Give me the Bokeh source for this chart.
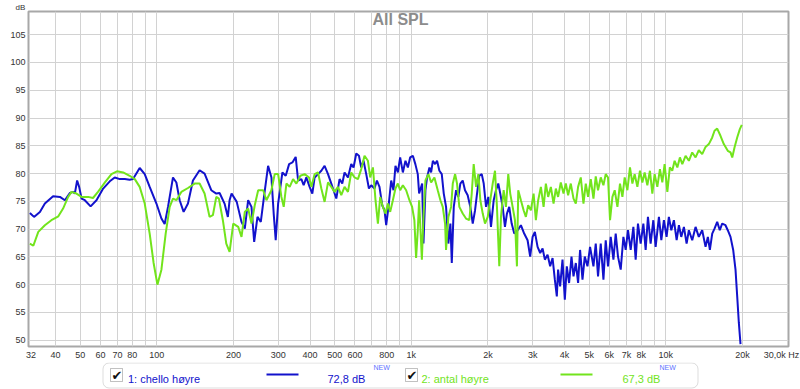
from bokeh.plotting import figure
from bokeh.models import Range1d, FixedTicker, Label, BoxAnnotation, Title
from bokeh.layouts import column
from bokeh.embed import file_html
from bokeh.resources import INLINE

# ---- data (Hz, dB) ----
blue_freq = [31.7, 32.9, 34.7, 36.3, 39.1, 41.6, 43.5, 45.5, 46.9, 47.6, 48.6, 49.5, 50.6, 52.1, 54.9, 57.9,
             61.5, 65.3, 68.3, 71.5, 74.8, 78.2, 80.6, 85.6, 89.6, 93.7, 99.6, 104.2, 107.3, 110.6, 115.7,
             119.3, 122.9, 127.4, 132.5, 138.6, 147.2, 154.0, 163.6, 171.2, 176.4, 184.5, 190.1, 193.1, 196.6,
             206, 215, 221.6, 228.4, 235.4, 241.2, 248.5, 256.1, 264.1, 273.6, 282, 287.8, 293.1, 299.6,
             311.4, 320.9, 330.9, 340.9, 351.2, 358.9, 369.7, 377.5, 386.7, 398.4, 408.2, 416.9, 429.9,
             442.9, 456.2, 470.5, 484.7, 507.1, 522.4, 535.3, 546.5, 563.6, 580.6, 592.8, 607.5, 622.5,
             635.5, 648.9, 664.9, 681.3, 695.6, 716.6, 732.3, 749.6, 768.2, 784.3, 796.5, 813.2, 833.3,
             850.8, 866.2, 885.2, 903.8, 926.1, 948.2, 969, 989.3, 1014, 1037, 1060, 1073, 1103, 1116, 1136,
             1153, 1178, 1196, 1215, 1240, 1262, 1289, 1317, 1341, 1369, 1398, 1424, 1442, 1468, 1499, 1530,
             1558, 1592, 1625, 1665, 1705, 1743, 1780, 1812, 1850, 1891, 1925, 1966, 2007, 2056, 2107, 2151,
             2196, 2236, 2285, 2333, 2375, 2425, 2479, 2538, 2617, 2695, 2776, 2863, 2931, 2996, 3058, 3134,
             3209, 3279, 3348, 3430, 3512, 3589, 3664, 3730, 3773, 3843, 3927, 4010, 4082, 4168, 4260, 4338,
             4429, 4522, 4604, 4705, 4803, 4922, 5039, 5196, 5305, 5416, 5550, 5687, 5806, 5928, 6075, 6225,
             6355, 6488, 6649, 6813, 6956, 7102, 7277, 7457, 7613, 7773, 7965, 8162, 8333, 8508, 8717, 8932,
             9120, 9396, 9602, 9830, 10070, 10280, 10510, 10760, 11030, 11260, 11500, 11780, 12070, 12320,
             12700, 13090, 13480, 13900, 14330, 14630, 14900, 15220, 15540, 15920, 16300, 16650, 17160,
             17520, 17960, 18400, 18790, 19080, 19360, 19660]
blue_db = [72.9, 72.2, 73.1, 74.6, 75.9, 75.8, 75.2, 76.5, 76.7, 76.4, 78.75, 77.6, 75.5, 75.2, 74.1, 75.2,
           77.3, 78.6, 79.3, 79.0, 79.0, 78.9, 79.0, 81.0, 79.9, 77.6, 74.6, 71.9, 70.9, 74.0, 79.3,
           78.4, 75.2, 73.1, 74.6, 78.75, 80.6, 80.0, 77.0, 76.4, 76.5, 74.6, 72.2, 75.2, 76.4,
           74.9, 71.3, 70.1, 75.2, 74.0, 67.7, 72.2, 71.3, 76.1, 81.4, 79.3, 72.8, 68.0, 74.6,
           80.2, 79.6, 81.7, 82.0, 83.0, 78.75, 79.0, 77.9, 79.3, 77.6, 76.4, 79.3, 79.9,
           80.5, 81.4, 79.9, 78.2, 75.5, 79.0, 78.2, 80.2, 79.3, 81.7, 81.1, 83.6, 83.2,
           81.1, 82.3, 79.9, 77.3, 77.9, 77.3, 78.75, 77.6, 74.3, 73.4, 70.7, 74.0, 78.75,
           77.0, 81.4, 80.2, 82.9, 80.2, 82.3, 81.1, 82.9, 83.2, 81.7, 79.9, 76.4, 78.2, 67.4, 77.0,
           79.3, 81.1, 80.2, 82.3, 81.7, 82.3, 80.5, 79.9, 76.4, 74.0, 67.4, 71.0, 63.9, 74.0, 77.0, 75.8,
           78.2, 78.75, 77.0, 76.1, 74.0, 71.0, 73.4, 76.4, 79.6, 79.9, 78.2, 74.0, 75.8, 70.4, 75.2, 77.0,
           78.2, 76.4, 74.0, 70.4, 72.8, 74.0, 71.0, 69.2, 69.8, 70.7, 69.2, 68.0, 65.05, 68.6, 69.5, 66.8,
           65.7, 66.5, 64.5, 65.4, 63.3, 64.8, 60.9, 57.9, 62.7, 59.7, 64.5, 57.3, 63.3, 60.3, 65.05, 61.5,
           63.9, 60.3, 66.25, 60.9, 65.05, 63.3, 66.8, 63.3, 67.4, 61.5, 67.4, 60.9, 68.0, 63.3, 68.6, 64.5,
           69.2, 65.05, 62.7, 68.6, 66.25, 69.8, 66.25, 70.4, 64.5, 71.0, 67.4, 71.0, 66.25, 72.2, 67.4, 71.6,
           66.8, 72.2, 68.0, 71.6, 68.6, 72.2, 69.8, 71.6, 68.0, 70.7, 68.6, 70.4, 67.4, 69.8,
           68.0, 70.4, 68.6, 69.8, 66.8, 68.6, 66.25, 69.2, 70.1, 71.3, 69.8, 71.0, 70.7,
           69.8, 68.6, 66.25, 62.7, 57.9, 53.2, 49.3]

green_freq = [31.7, 32.7, 34.2, 36.3, 38.5, 41.0, 42.8, 44.8, 46.2, 48.3, 50.6, 53.7, 56.1, 58.7, 62.5, 66.3,
              69.7, 73.7, 78.2, 81.9, 85.6, 89.6, 93.7, 97.1, 100.5, 104.2, 108.3, 112.3, 115.7, 119.3, 124.8,
              132.5, 140.7, 147.2, 154.0, 161.1, 166.0, 171.2, 175.3, 181.7, 187.4, 193.1, 199.6, 208.8, 215.1,
              221.6, 228.4, 235.4, 242.5, 250.1, 261.7, 269.5, 281.9, 290.5, 299.6, 308.6, 315.1, 322.9, 332.6,
              343.0, 353.4, 366.4, 380.8, 396.3, 404.6, 416.9, 429.9, 442.9, 456.2, 470.5, 484.7, 499.3, 515.0,
              530.5, 546.5, 563.6, 580.6, 598.2, 616.9, 635.5, 654.7, 675.2, 689.3, 706.4, 723.1, 739.0, 754.5,
              773.1, 791.5, 808.8, 825.8, 846.2, 866.2, 885.2, 903.8, 926.1, 954.2, 983, 1007, 1028, 1044, 1060,
              1073, 1100, 1116, 1136, 1167, 1196, 1232, 1270, 1301, 1329, 1357, 1369, 1398, 1433, 1455, 1486,
              1512, 1544, 1592, 1640, 1690, 1727, 1758, 1796, 1834, 1867, 1908, 1948, 1996, 2043, 2088, 2132,
              2170, 2216, 2250, 2306, 2354, 2404, 2447, 2501, 2554, 2600, 2631, 2695, 2762, 2819, 2878, 2950,
              3023, 3086, 3151, 3229, 3309, 3378, 3449, 3534, 3621, 3697, 3773, 3867, 3963, 4046, 4131, 4233,
              4338, 4429, 4522, 4633, 4747, 4847, 4949, 5071, 5196, 5305, 5416, 5550, 5687, 5806, 5928, 6037,
              6169, 6298, 6454, 6607, 6752, 6893, 7064, 7231, 7390, 7544, 7731, 7915, 8088, 8258, 8462, 8662,
              8852, 9038, 9261, 9482, 9690, 9893, 10140, 10370, 10600, 10830, 11100, 11360, 11610, 11960,
              12320, 12700, 13090, 13480, 13900, 14330, 14760, 15220, 15540, 15920, 16400, 16900, 17520,
              17960, 18240, 18620, 19080, 19540, 19890]
green_db = [67.4, 67.0, 69.5, 70.7, 71.6, 72.3, 73.7, 75.8, 76.7, 76.4, 75.8, 75.8, 75.6, 76.7, 78.4, 79.9,
            80.4, 80.2, 79.6, 79.0, 77.6, 74.6, 69.2, 63.9, 60.0, 62.7, 69.2, 74.0, 75.5, 75.2, 76.7,
            77.4, 78.2, 78.2, 76.4, 72.2, 72.5, 75.8, 75.5, 71.6, 67.4, 65.9, 71.0, 70.4, 68.6,
            73.1, 73.7, 71.0, 74.3, 77.0, 77.0, 75.2, 77.0, 79.9, 79.9, 75.8, 74.0, 78.2, 77.6,
            79.0, 78.2, 79.6, 79.9, 79.3, 77.6, 79.9, 80.2, 77.3, 74.9, 78.4, 77.6, 76.7, 77.6,
            76.1, 77.6, 76.7, 80.2, 79.3, 79.0, 80.8, 83.2, 82.3, 79.3, 81.1, 75.2, 71.0, 75.8,
            74.0, 72.8, 74.6, 73.1, 75.2, 77.3, 78.2, 77.0, 77.9, 77.0, 75.2, 74.0, 71.6, 64.8, 69.8,
            75.2, 64.5, 72.2, 78.75, 79.9, 78.4, 79.3, 77.0, 75.2, 74.0, 71.0, 66.25, 72.2, 74.0, 78.2, 79.9,
            78.2, 74.0, 72.8, 71.9, 71.6, 76.4, 81.7, 77.6, 79.9, 75.2, 72.8, 71.0, 72.2, 75.2, 78.2, 80.5,
            74.0, 63.3, 72.2, 77.0, 74.0, 79.9, 76.4, 74.0, 71.6, 63.3, 77.0, 75.2, 73.4, 72.2, 74.3, 73.4,
            76.4, 71.6, 75.2, 77.6, 74.0, 78.2, 75.8, 77.6, 74.6, 77.3, 75.8, 78.4, 76.4, 78.2, 76.1, 78.2,
            75.5, 74.6, 77.6, 79.3, 74.6, 78.2, 75.8, 79.0, 75.5, 79.5, 77.0, 79.3, 77.9, 79.9, 79.3, 71.6,
            75.8, 77.0, 74.0, 78.2, 75.8, 79.3, 77.0, 81.1, 78.2, 79.9, 77.6, 80.5, 78.4, 80.2, 77.9, 80.5,
            76.4, 79.9, 77.6, 80.8, 78.4, 81.7, 76.7, 81.1, 80.5, 82.3, 81.1, 82.9, 81.7, 83.2,
            82.3, 83.8, 82.9, 84.2, 83.5, 84.8, 85.3, 86.5, 87.7, 88.1, 86.8, 85.3, 84.1,
            83.8, 82.9, 84.7, 86.5, 88.0, 88.75]

x_tick_values = [32, 40, 50, 60, 70, 80, 100, 200, 300, 400, 500, 600, 800, 1000, 2000, 3000, 4000,
                 5000, 6000, 7000, 8000, 10000, 20000]
x_tick_labels = ["32", "40", "50", "60", "70", "80", "100", "200", "300", "400", "500", "600", "800",
                 "1k", "2k", "3k", "4k", "5k", "6k", "7k", "8k", "10k", "20k"]
x_end_label = "30,0k Hz"
x_grid_values = [40, 50, 60, 70, 80, 90, 100, 200, 300, 400, 500, 600, 700, 800, 900, 1000, 2000, 3000,
                 4000, 5000, 6000, 7000, 8000, 9000, 10000, 20000]
y_tick_values = [50, 55, 60, 65, 70, 75, 80, 85, 90, 95, 100, 105]

series_names = ["1: chello høyre", "2: antal høyre"]
series_levels = ["72,8 dB", "67,3 dB"]
BLUE = "#1212cc"
GREEN = "#72e41c"
END_LABEL_POS = 28500  # where the right-hand "30,0k Hz" label is centred

p = figure(width=800, height=362, x_axis_type="log",
           x_range=Range1d(31.3, 30350), y_range=Range1d(48.87, 109.17),
           output_backend="svg", toolbar_location=None, title=None,
           min_border_left=28, min_border_right=12, min_border_top=10, min_border_bottom=15)
p.background_fill_color = "white"
p.border_fill_color = "white"
p.outline_line_color = "#a8a8a8"
p.outline_line_width = 2

p.add_layout(Title(text="dB", align="left", offset=-13, standoff=0, text_font="Liberation Sans",
                   text_font_size="8px", text_font_style="normal", text_color="#333333"), "above")

p.xaxis.ticker = FixedTicker(ticks=x_tick_values + [END_LABEL_POS])
overrides = {v: s for v, s in zip(x_tick_values, x_tick_labels)}
overrides[END_LABEL_POS] = x_end_label
p.xaxis.major_label_overrides = overrides
p.yaxis.ticker = FixedTicker(ticks=y_tick_values)
p.xgrid.ticker = FixedTicker(ticks=x_grid_values)
p.ygrid.ticker = FixedTicker(ticks=y_tick_values)
for g in (p.xgrid, p.ygrid):
    g.grid_line_color = "#d2d2d2"
    g.grid_line_width = 1
for ax in (p.xaxis, p.yaxis):
    ax.axis_line_color = None
    ax.major_tick_line_color = None
    ax.minor_tick_line_color = None
    ax.major_tick_out = 0
    ax.major_tick_in = 0
    ax.major_label_text_font = "Liberation Sans"
    ax.major_label_text_font_size = "9px"
    ax.major_label_text_color = "#333333"
p.xaxis.major_label_standoff = 3
p.yaxis.major_label_standoff = 3

p.line(blue_freq, blue_db, line_color=BLUE, line_width=2)
p.line(green_freq, green_db, line_color=GREEN, line_width=2)

p.add_layout(Label(x=372, y=327.5, x_units="screen", y_units="screen", text="All SPL",
                   text_font="Liberation Sans", text_font_size="16px", text_font_style="bold",
                   text_color="#8c8c8c", text_align="center", text_baseline="middle"))

# ---- legend strip below the chart (its frame is aligned with the chart frame: x 28..788) ----
leg = figure(width=800, height=27, x_range=Range1d(28, 788), y_range=Range1d(27, 0),
             output_backend="svg", toolbar_location=None, title=None,
             x_axis_location=None, y_axis_location=None,
             min_border_left=28, min_border_right=12, min_border_top=0, min_border_bottom=0)
leg.xgrid.visible = False
leg.ygrid.visible = False
leg.outline_line_color = None
leg.background_fill_color = "white"
leg.border_fill_color = "white"


def lbox(l, r, t, b, fill, line=None, radius=0):
    leg.add_layout(BoxAnnotation(left=l, right=r, top=t, bottom=b, fill_color=fill, fill_alpha=1,
                                 line_color=line, line_width=1, border_radius=radius, level="overlay"))


def ltext(text, x, y, size, color, baseline="alphabetic", align="left", font="Liberation Sans", style="normal"):
    leg.add_layout(Label(x=x, y=y, text=text, text_font=font, text_font_size=f"{size}px",
                         text_color=color, text_baseline=baseline, text_align=align, text_font_style=style,
                         level="overlay"))


lbox(102.5, 697.5, 0.5, 25.5, "white", "#8a8a8a", radius=6)
for cx, name, col, lx, lvl, lvl_x, new_x, line_x in (
        (110, series_names[0], BLUE, 127.5, series_levels[0], 327, 373, 266),
        (405, series_names[1], GREEN, 421, series_levels[1], 622, 659, 560)):
    lbox(cx, cx + 12, 6, 19, "white", "#333333")
    ltext("\u2714", cx + 6.5, 12.5, 13, "#111111", baseline="middle", align="center", font="DejaVu Sans")
    ltext(name, lx, 16.5, 11, col)
    lbox(line_x, line_x + 32, 11, 13, col)
    ltext(lvl, lvl_x, 16.5, 11, col)
    ltext("NEW", new_x, 1, 7, "#5c72ff", baseline="top")

open("out.html", "w").write(file_html(column(p, leg), INLINE))
